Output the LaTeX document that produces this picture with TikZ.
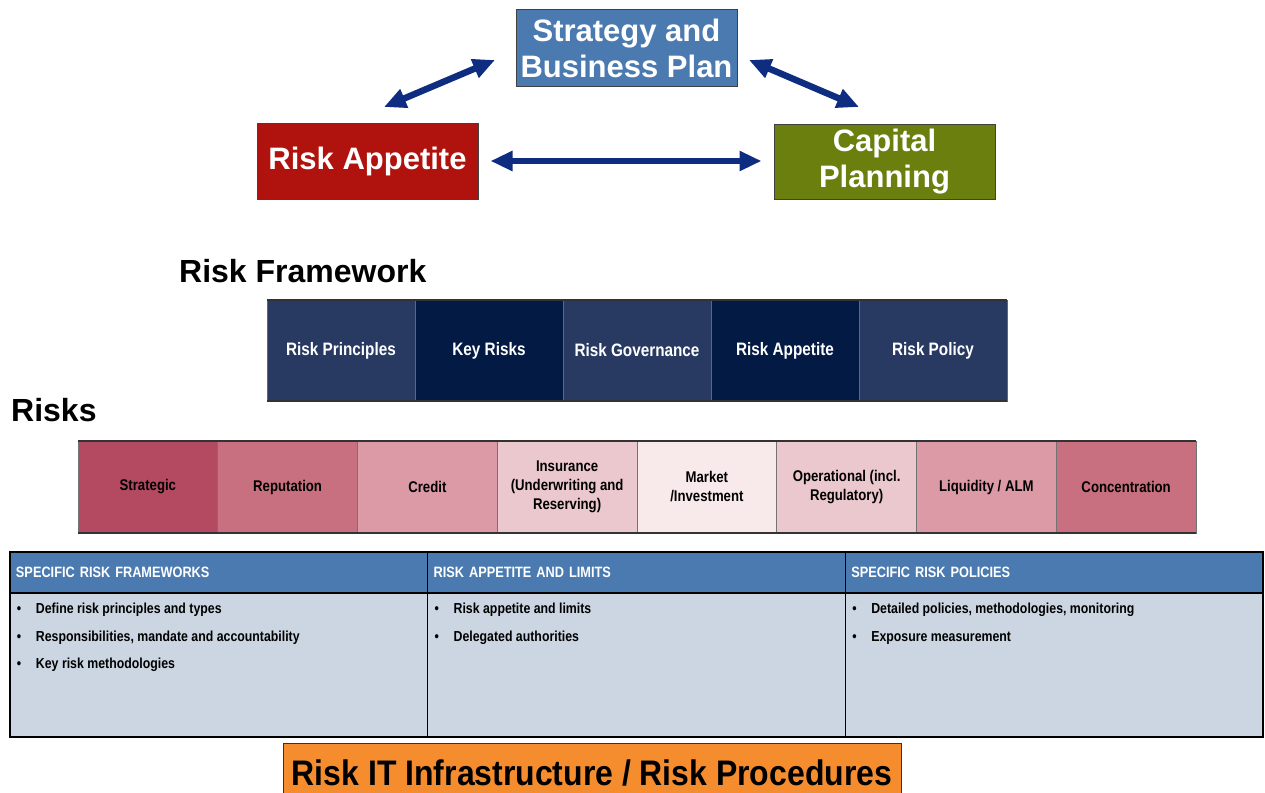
\documentclass[tikz,border=0pt]{standalone}
\usepackage{fontspec}
\setmainfont{Liberation Sans}
\newfontfamily\narrowfont[FakeStretch=0.85]{Liberation Sans}
\newfontfamily\infrafont[FakeStretch=0.9]{Liberation Sans}
\usetikzlibrary{positioning,calc}
\usetikzlibrary{arrows.meta}

\definecolor{stratblue}{HTML}{4A7AB0}
\definecolor{appred}{HTML}{B0120D}
\definecolor{capgreen}{HTML}{6A7F0E}
\definecolor{arrowblue}{HTML}{0F2D80}
\definecolor{fwlight}{HTML}{283A62}
\definecolor{fwdark}{HTML}{031B44}
\definecolor{rkA}{HTML}{B44A62}
\definecolor{rkB}{HTML}{C87080}
\definecolor{rkC}{HTML}{DC9AA6}
\definecolor{rkD}{HTML}{EBC8CD}
\definecolor{rkE}{HTML}{F8EAEB}
\definecolor{bodyblue}{HTML}{CCD6E2}
\definecolor{infraorange}{HTML}{F58D2E}

\newcommand\bitem[1]{\makebox[19pt][l]{\textbullet}#1\par}

\begin{document}
\begin{tikzpicture}[x=1pt, y=-1pt,
  bigbox/.style={draw=black!75, line width=1pt, minimum width=221pt, minimum height=76pt,
    inner sep=0pt, text=white, align=center, font=\fontsize{31}{36}\selectfont\bfseries},
  bigarrow/.style={arrowblue, line width=6.5pt,
    {Triangle[length=22pt,width=19pt]}-{Triangle[length=22pt,width=19pt]}},
  title/.style={anchor=west, inner sep=0pt, font=\fontsize{32}{36}\selectfont\bfseries},
  fwcell/.style={draw=black!60, line width=0.8pt, minimum width=148pt, minimum height=101pt,
    inner sep=0pt, outer sep=0pt, text=white, font=\narrowfont\fontsize{18}{20}\selectfont\bfseries},
  rkcell/.style={draw=black!55, line width=0.8pt, minimum width=139.75pt, minimum height=92pt,
    inner sep=0pt, outer sep=0pt, align=center, font=\narrowfont\fontsize{15.5}{19}\selectfont\bfseries},
  hdr/.style={draw=black, line width=1.5pt, fill=stratblue, text=white, minimum height=41pt,
    text width=405.67pt, inner xsep=6pt, inner ysep=0pt, outer sep=0pt, align=left,
    font=\narrowfont\fontsize{15}{18}\selectfont\bfseries},
  bodycell/.style={draw=black, line width=1.5pt, fill=bodyblue, inner xsep=7pt, inner ysep=10pt,
    outer sep=0pt, font=\narrowfont\fontsize{14.5}{27.5}\selectfont\bfseries}]
  \useasboundingbox (0,0) rectangle (1265,792);

  % top triangle
  \node[bigbox, fill=stratblue] at (626.5, 48) (strat) {Strategy and\\Business Plan};
  \node[bigbox, fill=appred] at (367.5, 161) (riskapp) {Risk Appetite};
  \node[bigbox, fill=capgreen, minimum height=75pt] at (884.5, 161.5) (capital) {Capital\\Planning};

  \coordinate (sl) at (495, 60);
  \coordinate (al) at (384, 107);
  \coordinate (sr) at (749, 60);
  \coordinate (cr) at (859, 107);
  \draw [bigarrow] (al) -- (sl);
  \draw [bigarrow] (sr) -- (cr);
  \draw [bigarrow, shorten <=12pt, shorten >=12pt] (riskapp.east) -- (riskapp.east -| capital.west);

  % risk framework
  \node[title] at (179, 271) (fwtitle) {Risk Framework};
  \node[fwcell, fill=fwlight] at (341, 350.5) (fw1) {Risk Principles};
  \node[fwcell, fill=fwdark] (fw2) [right=0pt of fw1] {Key Risks};
  \node[fwcell, fill=fwlight] (fw3) [right=0pt of fw2] {Risk Governance};
  \node[fwcell, fill=fwdark] (fw4) [right=0pt of fw3] {Risk Appetite};
  \node[fwcell, fill=fwlight] (fw5) [right=0pt of fw4] {Risk Policy};
  \draw [line width=1.2pt, black!80] (fw1.north west) -- (fw5.north east);
  \draw [line width=1.8pt, black!80] (fw1.south west) -- (fw5.south east);

  % risks
  \node[title] at (11, 410) (risktitle) {Risks};
  \node[rkcell, fill=rkA] at (147.875, 487) (rk1) {Strategic};
  \node[rkcell, fill=rkB] (rk2) [right=0pt of rk1] {Reputation};
  \node[rkcell, fill=rkC] (rk3) [right=0pt of rk2] {Credit};
  \node[rkcell, fill=rkD] (rk4) [right=0pt of rk3] {Insurance\\(Underwriting and\\Reserving)};
  \node[rkcell, fill=rkE] (rk5) [right=0pt of rk4] {Market\\/Investment};
  \node[rkcell, fill=rkD] (rk6) [right=0pt of rk5] {Operational (incl.\\Regulatory)};
  \node[rkcell, fill=rkC] (rk7) [right=0pt of rk6] {Liquidity / ALM};
  \node[rkcell, fill=rkB] (rk8) [right=0pt of rk7] {Concentration};
  \draw [line width=1.5pt, black!80] (rk1.north west) -- (rk8.north east);
  \draw [line width=1.8pt, black!80] (rk1.south west) -- (rk8.south east);

  % table
  \node[hdr] at (218.83, 572.5) (hd1) {SPECIFIC RISK FRAMEWORKS};
  \node[hdr] (hd2) [right=0pt of hd1] {RISK APPETITE AND LIMITS};
  \node[hdr] (hd3) [right=0pt of hd2] {SPECIFIC RISK POLICIES};
  \node[bodycell] (bd1) [below=0pt of hd1] {\parbox[t][124pt][t]{403.67pt}{%
    \bitem{Define risk principles and types}%
    \bitem{Responsibilities, mandate and accountability}%
    \bitem{Key risk methodologies}}};
  \node[bodycell] (bd2) [below=0pt of hd2] {\parbox[t][124pt][t]{403.67pt}{%
    \bitem{Risk appetite and limits}%
    \bitem{Delegated authorities}}};
  \node[bodycell] (bd3) [below=0pt of hd3] {\parbox[t][124pt][t]{403.67pt}{%
    \bitem{Detailed policies, methodologies, monitoring}%
    \bitem{Exposure measurement}}};

  % infrastructure
  \node[draw=black!80, line width=1pt, fill=infraorange, minimum width=618pt, minimum height=60pt,
    inner sep=0pt, font=\infrafont\fontsize{35.5}{40}\selectfont\bfseries] at (592, 773) (infra)
    {Risk IT Infrastructure / Risk Procedures};

\end{tikzpicture}
\end{document}
